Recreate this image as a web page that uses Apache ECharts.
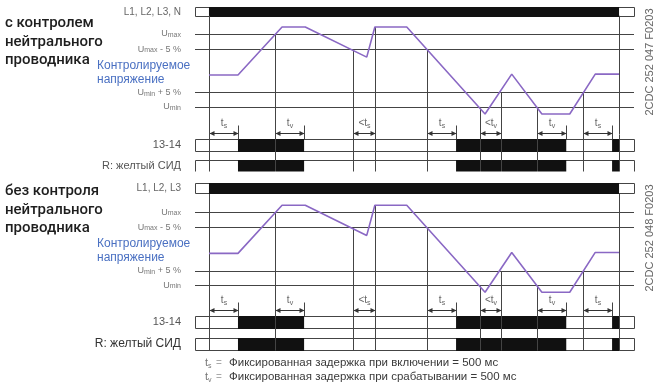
<!DOCTYPE html>
<html><head><meta charset="utf-8">
<script src="https://cdn.jsdelivr.net/npm/echarts@6/dist/echarts.min.js"></script>
<style>html,body{margin:0;padding:0;background:#fff}#c{width:657px;height:387px}</style>
</head><body><div id="c"></div><script>
// ---------- data (time in s, voltage in % of nominal) ----------
const tMin = -0.241, tMax = 7.328;
const sigT = [0, 0.5, 1.26, 1.66, 2.72, 2.86, 3.41, 4.76, 5.22, 5.74, 6.22, 6.66, 7.07];
const sigV = [96.5, 96.5, 112.3, 112.3, 102.4, 112.3, 112.3, 83.7, 96.8, 83.7, 83.7, 96.8, 96.8];
const thresholds = [110, 105, 90.7, 86];
const thresholdLabels = ['Umax', 'Umax - 5 %', 'Umin + 5 %', 'Umin'];
const powerOn = [0, 7.07];
const markT = [0, 1.14, 2.48, 2.86, 3.76, 4.67, 5.03, 5.66, 6.45, 7.07];
const markStartV = [null, 110, 105, 112.3, 105, 86, 90.7, 86, 90.7, null];
const relayOn = [[0.5, 1.64], [4.26, 6.16], [6.95, 7.07]];
const arrowStart = [0, 1.14, 2.48, 3.76, 4.67, 5.66, 6.45];
const arrowEnd = [0.5, 1.64, 2.86, 4.26, 5.03, 6.16, 6.95];
const arrowPrefix = ['', '', '<', '', '<', '', ''];
const arrowSub = ['s', 'v', 's', 's', 'v', 'v', 's'];
const rowLabels = ['13-14', 'R: желтый СИД'];
const titlesTop = ['с контролем', 'нейтрального', 'проводника'];
const titlesBottom = ['без контроля', 'нейтрального', 'проводника'];
const powerLabels = ['L1, L2, L3, N', 'L1, L2, L3'];
const codes = ['2CDC 252 047 F0203', '2CDC 252 048 F0203'];
const blueLabel = ['Контролируемое', 'напряжение'];
const footSubs = ['s', 'v'];
const footTexts = ['Фиксированная задержка при включении = 500 мс', 'Фиксированная задержка при срабатывании = 500 мс'];

// ---------- layout ----------
const panels = [
  {titles: titlesTop, titleY: 25, L: {top: 7, height: 10}, V: {top: 15.75, height: 118.6}, R: {top: 134.5, height: 42},
   codeY: 62, blueY: 67, rColor: ['#555', '#555'], rSize: [11, 11]},
  {titles: titlesBottom, titleY: 193, L: {top: 183, height: 11}, V: {top: 194.05, height: 118.6}, R: {top: 310.25, height: 45},
   codeY: 238, blueY: 245, rColor: ['#555', '#333'], rSize: [11, 12]}
];
const FF = '"Liberation Sans", Arial, sans-serif';
const LINE = '#444';

function uLabel(s) {
  const m = s.match(/^U(max|min)(.*)$/);
  return '{u|U}{s|' + m[1] + '}' + (m[2] ? '{u|' + m[2] + '}' : '');
}

const grids = [], xAxes = [], yAxes = [], series = [];
const xBase = {type: 'value', min: tMin, max: tMax, show: false};
const gBase = {left: 195, right: 23};

panels.forEach((p, i) => {
  const gi = i * 3;
  grids.push(Object.assign({}, gBase, p.L), Object.assign({}, gBase, p.V), Object.assign({}, gBase, p.R));
  for (let k = 0; k < 3; k++) xAxes.push(Object.assign({gridIndex: gi + k}, xBase));
  yAxes.push({gridIndex: gi, type: 'category', data: [powerLabels[i]], inverse: true,
    axisLine: {show: false}, axisTick: {show: false},
    axisLabel: {margin: 14, color: '#666', fontSize: 10, fontFamily: FF}});
  yAxes.push({gridIndex: gi + 1, type: 'value', min: 77, max: 116,
    axisLine: {show: false}, axisTick: {show: false}, splitLine: {show: false},
    axisLabel: {customValues: thresholds, margin: 14, fontFamily: FF,
      formatter: v => uLabel(thresholdLabels[thresholds.indexOf(v)]),
      rich: {u: {fontSize: 9, color: '#777', fontFamily: FF}, s: {fontSize: 7, color: '#777', fontFamily: FF, verticalAlign: 'bottom'}}}});
  yAxes.push({gridIndex: gi + 2, type: 'category', data: rowLabels, inverse: true,
    axisLine: {show: false}, axisTick: {show: false},
    axisLabel: {margin: 14, fontFamily: FF,
      formatter: (v, idx) => '{r' + idx + '|' + v + '}',
      rich: {r0: {color: p.rColor[0], fontSize: p.rSize[0], fontFamily: FF}, r1: {color: p.rColor[1], fontSize: p.rSize[1], fontFamily: FF}}}});

  // power row
  series.push({type: 'custom', xAxisIndex: gi, yAxisIndex: gi, data: [[0, 0]], silent: true,
    renderItem: (params, api) => {
      const h = api.size([0, 1])[1];
      const yc = api.coord([0, 0])[1];
      const xl = api.coord([tMin, 0])[0], xr = api.coord([tMax, 0])[0];
      const a = api.coord([powerOn[0], 0])[0], b = api.coord([powerOn[1], 0])[0];
      return {type: 'group', children: [
        {type: 'rect', shape: {x: xl + 0.5, y: yc - h / 2 + 0.5, width: xr - xl, height: h - 1}, style: {fill: '#fff', stroke: LINE, lineWidth: 1}},
        {type: 'rect', shape: {x: a, y: yc - h / 2, width: b - a, height: h}, style: {fill: '#111'}}
      ]};
    }});
  // signal + thresholds
  series.push({type: 'line', xAxisIndex: gi + 1, yAxisIndex: gi + 1, z: 5, silent: true,
    data: sigT.map((t, k) => [t, sigV[k]]), symbol: 'none',
    lineStyle: {color: '#8a68c4', width: 1.6},
    markLine: {silent: true, symbol: 'none', label: {show: false}, animation: false,
      lineStyle: {color: LINE, width: 1, type: 'solid'},
      data: thresholds.map(v => ({yAxis: v}))}});
  // vertical event lines in voltage area
  series.push({type: 'custom', xAxisIndex: gi + 1, yAxisIndex: gi + 1, silent: true, z: 3,
    data: markT.map((t, k) => [t, markStartV[k] == null ? 116 : markStartV[k]]),
    renderItem: (params, api) => {
      const cs = params.coordSys;
      const pt = api.coord([api.value(0), api.value(1)]);
      const x = Math.round(pt[0]) + 0.5;
      return {type: 'line', shape: {x1: x, y1: pt[1], x2: x, y2: cs.y + cs.height}, style: {stroke: LINE, lineWidth: 1}};
    }});
  // relay rows, arrows
  series.push({type: 'custom', xAxisIndex: gi + 2, yAxisIndex: gi + 2, data: [[0, 0]], silent: true, clip: false,
    renderItem: (params, api) => {
      const cs = params.coordSys;
      const ch = [];
      const bh = 12;
      const xl = api.coord([tMin, 0])[0], xr = api.coord([tMax, 0])[0];
      const yc = rowLabels.map((_, r) => api.coord([0, r])[1]);
      yc.forEach((c, r) => {
        const y0 = Math.round(c - bh / 2) + 0.5;
        ch.push({type: 'rect', shape: {x: Math.round(xl) + 0.5, y: y0, width: xr - xl, height: bh}, style: {fill: '#fff', stroke: LINE, lineWidth: 1}});
        relayOn.forEach(s => {
          const a = api.coord([s[0], r])[0], b = api.coord([s[1], r])[0];
          ch.push({type: 'rect', shape: {x: a, y: y0 - 0.5, width: b - a, height: bh + 1}, style: {fill: '#111'}});
        });
      });
      const yBot = Math.round(yc[1] + bh / 2) + 0.5;
      markT.forEach(t => {
        const x = Math.round(api.coord([t, 0])[0]) + 0.5;
        ch.push({type: 'line', shape: {x1: x, y1: cs.y, x2: x, y2: yBot}, style: {stroke: LINE, lineWidth: 1}});
      });
      const ay = Math.round(yc[0] - 12) + 0.5;
      const rowTop = Math.round(yc[0] - bh / 2) + 0.5;
      arrowStart.forEach((t0, k) => {
        const x1 = Math.round(api.coord([t0, 0])[0]) + 0.5, x2 = Math.round(api.coord([arrowEnd[k], 0])[0]) + 0.5;
        ch.push({type: 'line', shape: {x1: x1, y1: ay, x2: x2, y2: ay}, style: {stroke: '#333', lineWidth: 1}});
        ch.push({type: 'polygon', shape: {points: [[x1, ay], [x1 + 5, ay - 2.5], [x1 + 5, ay + 2.5]]}, style: {fill: '#333'}});
        ch.push({type: 'polygon', shape: {points: [[x2, ay], [x2 - 5, ay - 2.5], [x2 - 5, ay + 2.5]]}, style: {fill: '#333'}});
        [x1, x2].forEach(x => ch.push({type: 'line', shape: {x1: x, y1: ay - 8, x2: x, y2: rowTop}, style: {stroke: LINE, lineWidth: 1}}));
        ch.push({type: 'text', x: (x1 + x2) / 2, y: ay - 10, style: {
          text: '{t|' + arrowPrefix[k] + 't}{s|' + arrowSub[k] + '}', align: 'center', verticalAlign: 'middle',
          rich: {t: {fontSize: 10, fill: '#666', fontFamily: FF}, s: {fontSize: 7, fill: '#666', fontFamily: FF, verticalAlign: 'bottom', padding: [6, 0, 0, 0]}}}});
      });
      return {type: 'group', children: ch};
    }});
});

// ---------- texts ----------
const graphic = [];
panels.forEach((p, i) => {
  p.titles.forEach((s, k) => graphic.push({type: 'text', left: 5, top: p.titleY + k * 18.3 - 9,
    style: {text: s, fontSize: 15, fontWeight: 500, fontFamily: 'Roboto, "Liberation Sans", sans-serif', fill: '#1e1e1e'}}));
  blueLabel.forEach((s, k) => graphic.push({type: 'text', left: 97, top: p.blueY + k * 13.5 - 7,
    style: {text: s, fontSize: 12, fontFamily: FF, fill: '#4a70c2'}}));
  graphic.push({type: 'text', x: 650, y: p.codeY, rotation: Math.PI / 2,
    style: {text: codes[i], fontSize: 11, fontFamily: FF, fill: '#666', align: 'center', verticalAlign: 'middle'}});
});
footTexts.forEach((s, k) => {
  const y = 363 + k * 14;
  graphic.push({type: 'text', x: 205, y: y, style: {text: '{t|t}{s|' + footSubs[k] + '}', verticalAlign: 'middle',
    rich: {t: {fontSize: 11, fill: '#777', fontFamily: FF}, s: {fontSize: 7, fill: '#777', fontFamily: FF, padding: [7, 0, 0, 0]}}}});
  graphic.push({type: 'text', x: 216, y: y, style: {text: '=', fontSize: 10, fill: '#aaa', fontFamily: FF, verticalAlign: 'middle'}});
  graphic.push({type: 'text', x: 229, y: y, style: {text: s, fontSize: 11.5, fill: '#3a3a3a', fontFamily: FF, verticalAlign: 'middle'}});
});
// top panel is cropped at the bottom
graphic.push({type: 'rect', z: 100, shape: {x: 0, y: 171.5, width: 640, height: 6}, style: {fill: '#fff'}});

const chart = echarts.init(document.getElementById('c'));
chart.setOption({animation: false, backgroundColor: '#fff', grid: grids, xAxis: xAxes, yAxis: yAxes, series: series, graphic: graphic});
</script></body></html>
